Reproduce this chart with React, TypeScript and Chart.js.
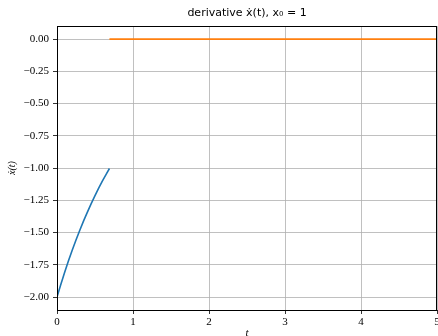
import React, { useEffect, useRef } from "react";
import { Chart, registerables } from "chart.js";

Chart.register(...registerables);

const derivT = [0, 0.05, 0.1, 0.15, 0.2, 0.25, 0.3, 0.35, 0.4, 0.45, 0.5, 0.55, 0.6, 0.65, 0.69];
const derivX = [-2.0, -1.902, -1.81, -1.721, -1.637, -1.558, -1.482, -1.409, -1.341, -1.275, -1.213, -1.154, -1.098, -1.044, -1.003];
const afterT = [0.69, 5];
const afterX = [0, 0];
const xTicks = [0, 1, 2, 3, 4, 5];
const yTicks = [-2.0, -1.75, -1.5, -1.25, -1.0, -0.75, -0.5, -0.25, 0.0];
const titleText = "derivative ẋ(t), x₀ = 1";
const xLabel = "t";
const yLabel = "ẋ(t)";

const serif = "'Liberation Serif', 'DejaVu Serif', serif";

const frame = {
  id: "frame",
  afterLayout(chart: any) {
    const tb = chart.titleBlock;
    if (tb) {
      tb.left = chart.chartArea.left;
      tb.right = chart.chartArea.right;
      tb.width = tb.right - tb.left;
    }
  },
  afterDraw(chart: any) {
    const { ctx, chartArea } = chart;
    ctx.save();
    ctx.strokeStyle = "#000";
    ctx.lineWidth = 1;
    ctx.strokeRect(
      Math.round(chartArea.left) + 0.5,
      Math.round(chartArea.top) + 0.5,
      Math.round(chartArea.right - chartArea.left) - 1,
      Math.round(chartArea.bottom - chartArea.top)
    );
    ctx.restore();
  },
};

export default function App() {
  const ref = useRef<HTMLCanvasElement>(null);
  useEffect(() => {
    document.body.style.margin = "0";
    const chart = new Chart(ref.current!, {
      type: "line",
      data: {
        datasets: [
          {
            data: derivT.map((t, i) => ({ x: t, y: derivX[i] })),
            borderColor: "#1f77b4",
            borderWidth: 1.6,
            pointRadius: 0,
            tension: 0,
          },
          {
            data: afterT.map((t, i) => ({ x: t, y: afterX[i] })),
            borderColor: "#ff7f0e",
            borderWidth: 1.6,
            pointRadius: 0,
          },
        ],
      },
      options: {
        animation: false,
        responsive: false,
        layout: { padding: { right: 1 } },
        plugins: {
          legend: { display: false },
          tooltip: { enabled: false },
          title: {
            display: true,
            text: titleText,
            color: "#000",
            font: { family: "'DejaVu Sans', sans-serif", size: 11, weight: "normal" },
            padding: { top: 7, bottom: 6 },
          },
        },
        scales: {
          x: {
            type: "linear",
            min: 0,
            max: 5,
            afterBuildTicks: (s: any) => {
              s.ticks = xTicks.map((v) => ({ value: v }));
            },
            afterFit: (s: any) => {
              s.height = 26;
              s.paddingLeft = 0;
              s.paddingRight = 0;
            },
            ticks: {
              color: "#000",
              font: { family: serif, size: 11 },
              padding: 2,
              maxRotation: 0,
              callback: (v: any) => String(v),
            },
            grid: { color: "#b0b0b0", lineWidth: 0.8, tickColor: "#000", tickLength: 4 },
            border: { color: "#000", width: 1 },
            title: {
              display: true,
              text: xLabel,
              color: "#000",
              font: { family: serif, size: 11, style: "italic" },
              padding: { top: 0, bottom: -4 },
            },
          },
          y: {
            type: "linear",
            min: -2.1,
            max: 0.1,
            afterBuildTicks: (s: any) => {
              s.ticks = yTicks.map((v) => ({ value: v }));
            },
            afterFit: (s: any) => {
              s.width = 57;
              s.paddingTop = 0;
              s.paddingBottom = 0;
            },
            ticks: {
              color: "#000",
              font: { family: serif, size: 11 },
              padding: 4,
              callback: (v: any) => Number(v).toFixed(2).replace("-", "−"),
            },
            grid: { color: "#b0b0b0", lineWidth: 0.8, tickColor: "#000", tickLength: 4 },
            border: { color: "#000", width: 1 },
            title: {
              display: true,
              text: yLabel,
              color: "#000",
              font: { family: serif, size: 10, style: "italic" },
              padding: { top: 6, bottom: 0 },
            },
          },
        },
      },
      plugins: [frame],
    } as any);
    return () => chart.destroy();
  }, []);
  return (
    <div style={{ width: 438, height: 336 }}>
      <canvas ref={ref} width={438} height={336} style={{ display: "block" }} />
    </div>
  );
}
